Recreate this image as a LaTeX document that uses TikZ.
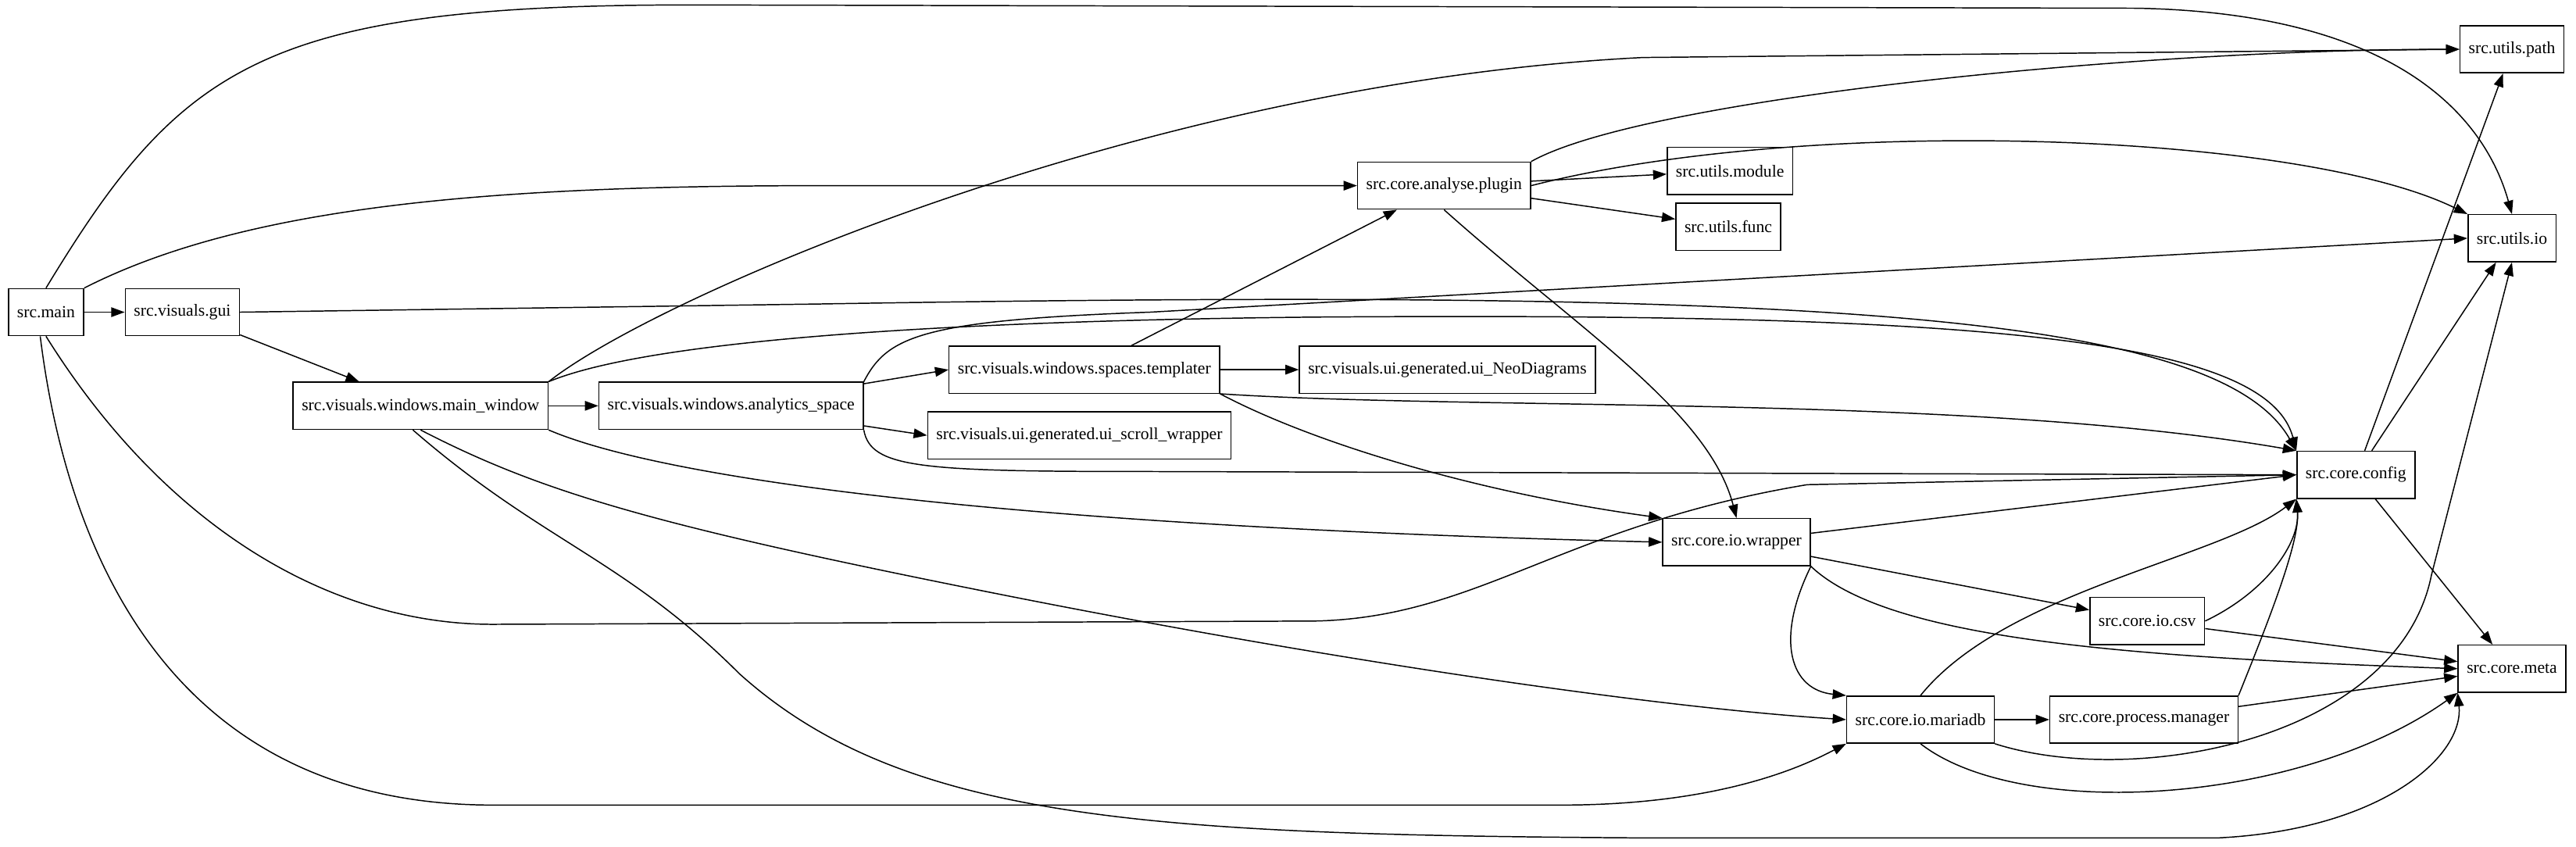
\documentclass[tikz,border=0pt]{standalone}
\usepackage{fontspec}
\setmainfont{Liberation Serif}
\usetikzlibrary{arrows.meta}
\tikzset{
  mod/.style={draw,semithick,font=\fontsize{8.8}{10}\selectfont,minimum height=0.86cm,inner xsep=4.5pt},
  dep/.style={-{Triangle[length=7pt,width=5pt]},semithick}
}
\begin{document}
\begin{tikzpicture}[x=0.03cm,y=-0.03cm]
\useasboundingbox (0,0) rectangle (1568,515.5);
%%%% modules
\node[mod] (main) at (28,190) {src.main};
\node[mod] (gui) at (111,190) {src.visuals.gui};
\node[mod] (mwin) at (256,247) {src.visuals.windows.main\_window};
\node[mod] (aspace) at (445,247) {src.visuals.windows.analytics\_space};
\node[mod] (tmpl) at (660,225) {src.visuals.windows.spaces.templater};
\node[mod] (neo) at (881,225) {src.visuals.ui.generated.ui\_NeoDiagrams};
\node[mod] (scroll) at (657,265) {src.visuals.ui.generated.ui\_scroll\_wrapper};
\node[mod] (plugin) at (879,113) {src.core.analyse.plugin};
\node[mod] (umod) at (1053,104) {src.utils.module};
\node[mod] (ufunc) at (1052,138) {src.utils.func};
\node[mod] (upath) at (1529,30) {src.utils.path};
\node[mod] (uio) at (1529,145) {src.utils.io};
\node[mod] (config) at (1434,289) {src.core.config};
\node[mod] (wrap) at (1057,330) {src.core.io.wrapper};
\node[mod] (csv) at (1307,378) {src.core.io.csv};
\node[mod] (maria) at (1169,438) {src.core.io.mariadb};
\node[mod] (proc) at (1305,438) {src.core.process.manager};
\node[mod] (meta) at (1529,407) {src.core.meta};
%%%% src.main
\draw[dep] (main)--(gui);
\draw[dep] (main.north) .. controls (110,40) and (160,3) .. (420,3) -- (1300,5) .. controls (1470,8) and (1515,80) .. (uio.north);
\draw[dep] (main.north east) .. controls (150,125) and (300,113) .. (500,113) -- (plugin.west);
\draw[dep] (main.south) .. controls (100,320) and (200,380) .. (300,380) -- (800,378) .. controls (900,376) and (950,320) .. (1100,295) -- (config.west);
\draw[dep] ([xshift=-3pt]main.south) .. controls (40,330) and (100,490) .. (300,490) -- (950,490) .. controls (1050,490) and (1100,465) .. (maria.south west);
%%%% gui / windows
\draw[dep] (gui)--(mwin);
\draw[dep] (gui.east) -- (500,185) .. controls (1100,175) and (1350,190) .. (config.north west);
\draw[dep] (mwin)--(aspace);
\draw[dep] (mwin.north east) .. controls (400,180) and (700,50) .. (1000,35) -- (upath.west);
\draw[dep] (mwin.north east) .. controls (400,205) and (600,195) .. (800,193) .. controls (1200,190) and (1380,205) .. (config.north west);
\draw[dep] (mwin.south east) .. controls (400,290) and (600,320) .. (wrap.west);
\draw[dep] (mwin.south) .. controls (330,300) and (400,320) .. (600,360) .. controls (800,400) and (1000,430) .. (maria.west);
\draw[dep] ([xshift=-4pt]mwin.south) .. controls (330,330) and (380,340) .. (450,410) .. controls (550,500) and (700,508) .. (1000,510) -- (1350,510) .. controls (1450,505) and (1500,460) .. (meta.south west);
\draw[dep] (aspace)--(tmpl.west);
\draw[dep] (aspace)--(scroll.west);
\draw[dep] (aspace.north east) .. controls (540,205) and (560,195) .. (700,190) -- (uio.west);
\draw[dep] (aspace.south east) .. controls (530,285) and (560,287) .. (700,287) -- (config.west);
\draw[dep] (tmpl)--(neo);
\draw[dep] (tmpl)--(plugin);
\draw[dep] (tmpl.south east) .. controls (900,250) and (1200,240) .. (config.north west);
\draw[dep] (tmpl.south east) .. controls (800,270) and (900,300) .. (wrap.north west);
%%%% plugin
\draw[dep] (plugin)--(umod);
\draw[dep] (plugin)--(ufunc);
\draw[dep] (plugin.north east) .. controls (1000,60) and (1300,30) .. (upath.west);
\draw[dep] (plugin.east) .. controls (1100,70) and (1400,80) .. (uio.north west);
\draw[dep] (plugin.south) .. controls (960,200) and (1040,250) .. (wrap.north);
%%%% core
\draw[dep] (wrap)--(config.west);
\draw[dep] (wrap)--(csv);
\draw[dep] (wrap.south east) .. controls (1080,390) and (1090,420) .. (maria.north west);
\draw[dep] (wrap.south east) .. controls (1150,390) and (1300,400) .. (meta.west);
\draw[dep] (csv.east) .. controls (1380,360) and (1400,330) .. (config.south west);
\draw[dep] (csv)--(meta);
\draw[dep] (maria)--(proc);
\draw[dep] (maria.north) .. controls (1220,360) and (1350,340) .. (config.south west);
\draw[dep] (maria.south east) .. controls (1300,480) and (1460,450) .. (1480,350) -- (uio.south);
\draw[dep] (maria.south) .. controls (1230,500) and (1400,490) .. (meta.south west);
\draw[dep] (proc.north east) .. controls (1380,380) and (1400,330) .. (config.south west);
\draw[dep] (proc)--(meta);
\draw[dep] (config)--(upath);
\draw[dep] (config)--(uio);
\draw[dep] (config)--(meta);
\end{tikzpicture}
\end{document}
